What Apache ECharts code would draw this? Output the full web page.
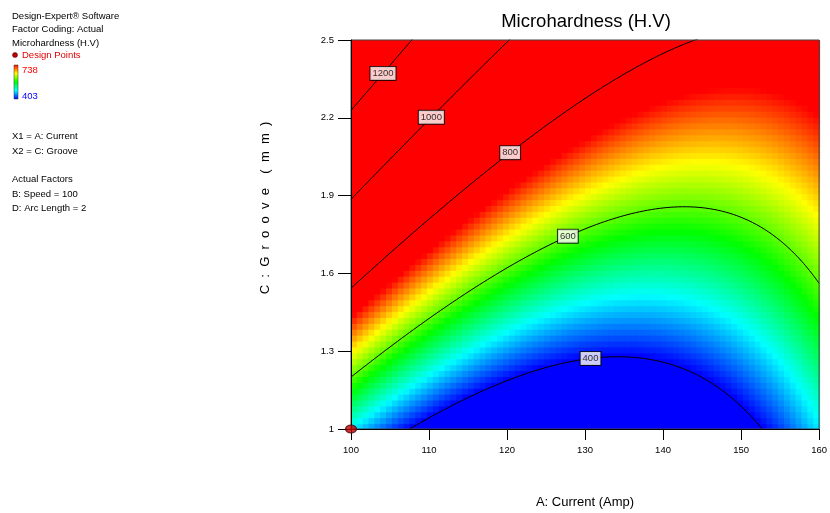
<!DOCTYPE html>
<html>
<head>
    <meta charset="utf-8">
</head>
<body style="margin: 0; background: #fff">
    <div id="container" style="width: 830px; height: 513px"></div>
    <script src="https://cdn.jsdelivr.net/npm/echarts@6/dist/echarts.min.js"></script>
    <script type="text/javascript">
        // response surface (coded units)
        // a = (A - 130) / 30, c = (C - 1.75) / 0.75
        // y = b0 + b1*a + b2*c + b12*a*c + b11*a^2 + b22*c^2
        var modelCoefs = [591.4, -140.4, 298.45, -139.1, 189, -0.25];
        var currentTicks = [100, 110, 120, 130, 140, 150, 160];
        var grooveTicks = [1, 1.3, 1.6, 1.9, 2.2, 2.5];
        var contourLevels = [400, 600, 800, 1000, 1200];
        var labelCurrents = [130.7, 127.8, 120.4, 110.3, 104.1];
        var designPoints = [[100, 1]];
        var colorRange = [403, 738];
        var rainbow = ['#0000ff', '#00ffff', '#00ff00', '#ffff00', '#ff0000'];
        var notes = ['Design-Expert® Software', 'Factor Coding: Actual', 'Microhardness (H.V)'];
        var factorNotes = ['X1 = A: Current', 'X2 = C: Groove', '', 'Actual Factors', 'B: Speed = 100', 'D: Arc Length = 2'];

        var FONT = '"Liberation Sans", Arial, sans-serif';
        var nx = 80, ny = 66;

        function hardness(A, C) {
            var a = (A - 130) / 30, c = (C - 1.75) / 0.75, k = modelCoefs;
            return k[0] + k[1] * a + k[2] * c + k[3] * a * c + k[4] * a * a + k[5] * c * c;
        }

        function grooveAt(A, level) {
            var a = (A - 130) / 30, k = modelCoefs;
            var p = k[0] + k[1] * a + k[4] * a * a - level, q = k[2] + k[3] * a, r = k[5];
            var c = Math.abs(r) < 1e-9 ? -p / q : (-q + Math.sqrt(q * q - 4 * r * p)) / (2 * r);
            return 1.75 + 0.75 * c;
        }

        // grid cells of the surface: [A0, A1, C0, C1, value]
        var cells = [];
        var dA = (currentTicks[currentTicks.length - 1] - currentTicks[0]) / nx;
        var dC = (grooveTicks[grooveTicks.length - 1] - grooveTicks[0]) / ny;
        for (var i = 0; i < nx; i++) {
            for (var j = 0; j < ny; j++) {
                var A0 = currentTicks[0] + i * dA, C0 = grooveTicks[0] + j * dC;
                var v = hardness(A0 + dA / 2, C0 + dC / 2);
                v = Math.min(colorRange[1], Math.max(colorRange[0], v));
                cells.push([A0, A0 + dA, C0, C0 + dC, v]);
            }
        }

        var contourSeries = contourLevels.map(function (level) {
            var pts = [];
            for (var A = 100; A <= 160.001; A += 0.25) pts.push([A, grooveAt(A, level)]);
            return {
                type: 'line', data: pts,
                showSymbol: false, silent: true, clip: true, z: 3,
                lineStyle: { color: '#000', width: 1 }
            };
        });

        var labelData = contourLevels.map(function (level, k) {
            return { name: String(level), value: [labelCurrents[k], grooveAt(labelCurrents[k], level)] };
        });

        var graphics = [];
        notes.forEach(function (t, k) {
            graphics.push({ type: 'text', x: 12, y: 16 + k * 13.5, style: { text: t, font: '9.5px ' + FONT, fill: '#000', textVerticalAlign: 'middle' } });
        });
        graphics.push({ type: 'circle', shape: { cx: 15, cy: 55, r: 2.5 }, style: { fill: '#c00000', stroke: '#400', lineWidth: 0.5 } });
        graphics.push({ type: 'text', x: 22, y: 55.5, style: { text: 'Design Points', font: '9.5px ' + FONT, fill: '#e00000', textVerticalAlign: 'middle' } });
        graphics.push({
            type: 'rect', shape: { x: 14, y: 65, width: 4, height: 34 },
            style: {
                stroke: '#333', lineWidth: 0.5,
                fill: new echarts.graphic.LinearGradient(0, 0, 0, 1, rainbow.slice().reverse().map(function (c, k) {
                    return { offset: k / (rainbow.length - 1), color: c };
                }))
            }
        });
        graphics.push({ type: 'text', x: 22, y: 70, style: { text: String(colorRange[1]), font: '9.5px ' + FONT, fill: '#ff0000', textVerticalAlign: 'middle' } });
        graphics.push({ type: 'text', x: 22, y: 96, style: { text: String(colorRange[0]), font: '9.5px ' + FONT, fill: '#0000ff', textVerticalAlign: 'middle' } });
        factorNotes.forEach(function (t, k) {
            if (!t) return;
            var y = [136, 151.5, 0, 179, 194, 208.5][k];
            graphics.push({ type: 'text', x: 12, y: y, style: { text: t, font: '9.5px ' + FONT, fill: '#000', textVerticalAlign: 'middle' } });
        });
        graphics.push({ type: 'text', x: 586, y: 22, style: { text: 'Microhardness (H.V)', font: '18.5px ' + FONT, fill: '#000', textAlign: 'center', textVerticalAlign: 'middle' } });
        graphics.push({ type: 'text', x: 585, y: 502, style: { text: 'A: Current (Amp)', font: '13px ' + FONT, fill: '#000', textAlign: 'center', textVerticalAlign: 'middle' } });
        graphics.push({
            type: 'text', x: 265, y: 208, rotation: Math.PI / 2,
            style: { text: 'C  :  G  r  o  o  v  e    (  m  m  )', font: '13px ' + FONT, fill: '#000', textAlign: 'center', textVerticalAlign: 'middle' }
        });

        var myChart = echarts.init(document.getElementById('container'));
        var option = {
            animation: false,
            grid: { left: 351, top: 40, width: 470, height: 389, show: true, z: 10, borderColor: '#444', borderWidth: 1, backgroundColor: 'transparent' },
            graphic: graphics,
            visualMap: {
                show: false, seriesIndex: 0, dimension: 4,
                min: colorRange[0], max: colorRange[1],
                inRange: { color: rainbow }
            },
            xAxis: {
                type: 'value', min: currentTicks[0], max: currentTicks[currentTicks.length - 1], interval: 10,
                position: 'bottom', z: 10,
                axisLine: { lineStyle: { color: '#000', width: 1 } },
                axisTick: { length: 11, lineStyle: { color: '#000' } },
                axisLabel: { color: '#000', fontSize: 9.5, fontFamily: FONT, margin: 16 },
                splitLine: { show: false }
            },
            yAxis: {
                type: 'value', min: grooveTicks[0], max: grooveTicks[grooveTicks.length - 1],
                position: 'left', z: 10,
                axisLine: { show: true, lineStyle: { color: '#000', width: 1 } },
                axisTick: { show: true, length: 13, customValues: grooveTicks, lineStyle: { color: '#000' } },
                axisLabel: {
                    color: '#000', fontSize: 9.5, fontFamily: FONT, margin: 17, customValues: grooveTicks,
                    formatter: function (v) { return String(Math.round(v * 10) / 10); }
                },
                splitLine: { show: false }
            },
            series: [
                {
                    type: 'custom', data: cells, clip: true, silent: true,
                    encode: { x: [0, 1], y: [2, 3] },
                    renderItem: function (params, api) {
                        var p0 = api.coord([api.value(0), api.value(3)]);
                        var p1 = api.coord([api.value(1), api.value(2)]);
                        return {
                            type: 'rect',
                            shape: { x: p0[0], y: p0[1], width: p1[0] - p0[0] + 1, height: p1[1] - p0[1] + 1 },
                            style: { fill: api.visual('color') }
                        };
                    }
                }
            ].concat(contourSeries).concat([
                {
                    type: 'scatter', data: labelData,
                    symbolSize: 0, silent: true, z: 5,
                    label: {
                        show: true, position: 'inside', formatter: '{b}',
                        color: '#000', fontSize: 9.5, fontFamily: FONT,
                        backgroundColor: '#fff', borderColor: '#000', borderWidth: 1, padding: [2, 2, 1, 2]
                    }
                },
                {
                    type: 'scatter', data: designPoints,
                    symbol: 'circle', symbolSize: [11, 8], clip: false, silent: true, z: 12,
                    itemStyle: { color: '#c00000', borderColor: '#400000', borderWidth: 1 }
                }
            ])
        };
        myChart.setOption(option);
    </script>
</body>
</html>
